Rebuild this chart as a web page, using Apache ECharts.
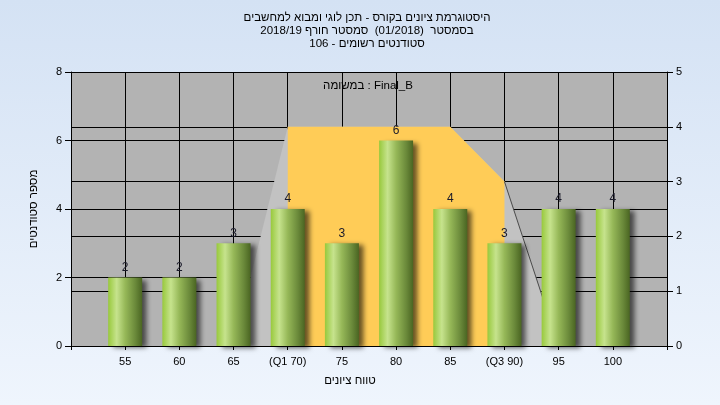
<!DOCTYPE html>
<html><head><meta charset="utf-8">
<script src="https://cdn.jsdelivr.net/npm/echarts@6/dist/echarts.min.js"></script>
<style>html,body{margin:0;padding:0;}#c{width:720px;height:405px;}</style>
</head><body><div id="c"></div>
<script>
const categories = [55, 60, 65, 70, 75, 80, 85, 90, 95, 100];
const tickLabels = ['55', '60', '65', '(Q1 70)', '75', '80', '85', '(Q3 90)', '95', '100'];
const counts = [2, 2, 3, 4, 3, 6, 4, 3, 4, 4];
const spreadX = [65, 70, 85, 90, 95];
const spreadY = [0, 4, 4, 3, 0];
const boxX = [70, 70, 85, 90, 90];
const boxY = [0, 4, 4, 3, 0];
const whiskerX = [90, 95];
const whiskerY = [3, 0];
const titleLines = ['היסטוגרמת ציונים בקורס - תכן לוגי ומבוא למחשבים', 'בסמסטר  (01/2018)  סמסטר חורף 2018/19', 'סטודנטים רשומים - 106'];
const taskLabel = 'במשומה : Final_B';
const yName = 'מספר סטודנטים';
const xName = 'טווח ציונים';

const FONT = '"Liberation Sans", Arial, sans-serif';
const TXT = '11.5px ' + FONT;
const zip = (xs, ys) => xs.map((x, i) => [x, ys[i]]);

const chart = echarts.init(document.getElementById('c'), null, {renderer: 'canvas'});
const barGrad = new echarts.graphic.LinearGradient(0, 0, 1, 0, [
  {offset: 0, color: '#98c93c'},
  {offset: 0.25, color: '#c6e38d'},
  {offset: 0.5, color: '#96b858'},
  {offset: 0.8, color: '#6a893a'},
  {offset: 1, color: '#4a6522'}
]);

chart.setOption({
  animation: false,
  backgroundColor: new echarts.graphic.LinearGradient(0, 0, 0, 1, [
    {offset: 0, color: '#d4e2f4'},
    {offset: 1, color: '#eff5fd'}
  ]),
  textStyle: {fontFamily: FONT},
  grid: {left: 71, right: 53, top: 72, bottom: 59, show: true, backgroundColor: '#b3b3b3', borderWidth: 0},
  xAxis: {
    type: 'value', min: 50, max: 105, interval: 5,
    axisLine: {show: true, lineStyle: {color: '#000', width: 1}},
    axisTick: {show: true, length: 4, lineStyle: {color: '#000'}},
    splitLine: {show: true, lineStyle: {color: '#000', width: 1}},
    axisLabel: {
      margin: 10, color: '#000', fontSize: 11, fontFamily: FONT,
      formatter: v => { const i = categories.indexOf(v); return i >= 0 ? tickLabels[i] : ''; }
    }
  },
  yAxis: [
    {
      type: 'value', min: 0, max: 8, interval: 2, position: 'left',
      axisLine: {show: true, lineStyle: {color: '#000'}},
      axisTick: {show: true, length: 6, lineStyle: {color: '#000'}},
      splitLine: {show: true, lineStyle: {color: '#000'}},
      axisLabel: {margin: 9, color: '#000', fontSize: 11, fontFamily: FONT}
    },
    {
      type: 'value', min: 0, max: 5, interval: 1, position: 'right',
      axisLine: {show: true, lineStyle: {color: '#000'}},
      axisTick: {show: true, length: 6, lineStyle: {color: '#000'}},
      splitLine: {show: true, lineStyle: {color: '#000'}},
      axisLabel: {margin: 9, color: '#000', fontSize: 11, fontFamily: FONT}
    }
  ],
  series: [
    {
      type: 'line', yAxisIndex: 1, data: zip(spreadX, spreadY), symbol: 'none', z: 1,
      lineStyle: {width: 0, color: '#c2c2c2'}, areaStyle: {color: '#c2c2c2', opacity: 1}
    },
    {
      type: 'line', yAxisIndex: 1, data: zip(boxX, boxY), symbol: 'none', z: 2,
      lineStyle: {width: 0, color: '#ffcc57'}, areaStyle: {color: '#ffcc57', opacity: 1}
    },
    {
      type: 'line', yAxisIndex: 1, data: zip(whiskerX, whiskerY), symbol: 'none', z: 3,
      lineStyle: {width: 1, color: '#4a4a4a'}
    },
    {
      type: 'bar', yAxisIndex: 0, data: zip(categories, counts), barWidth: 34, z: 5,
      itemStyle: {color: barGrad, shadowColor: 'rgba(0,0,0,0.6)', shadowBlur: 5, shadowOffsetX: 5, shadowOffsetY: 2},
      label: {show: true, position: 'top', distance: 4, color: '#1a1a2a', fontSize: 12, fontFamily: FONT}
    }
  ],
  graphic: [
    {type: 'text', x: 367, y: 11, style: {
      text: titleLines.join('\n'), fill: '#000', font: TXT,
      textAlign: 'center', lineHeight: 13
    }},
    {type: 'text', x: 368, y: 80, style: {
      text: taskLabel, fill: '#000', font: TXT, textAlign: 'center'
    }},
    {type: 'text', x: 34, y: 209, rotation: Math.PI / 2, style: {
      text: yName, fill: '#000', font: TXT, textAlign: 'center', textVerticalAlign: 'middle'
    }},
    {type: 'text', x: 350, y: 381, style: {
      text: xName, fill: '#000', font: TXT, textAlign: 'center', textVerticalAlign: 'middle'
    }}
  ]
});
</script></body></html>
